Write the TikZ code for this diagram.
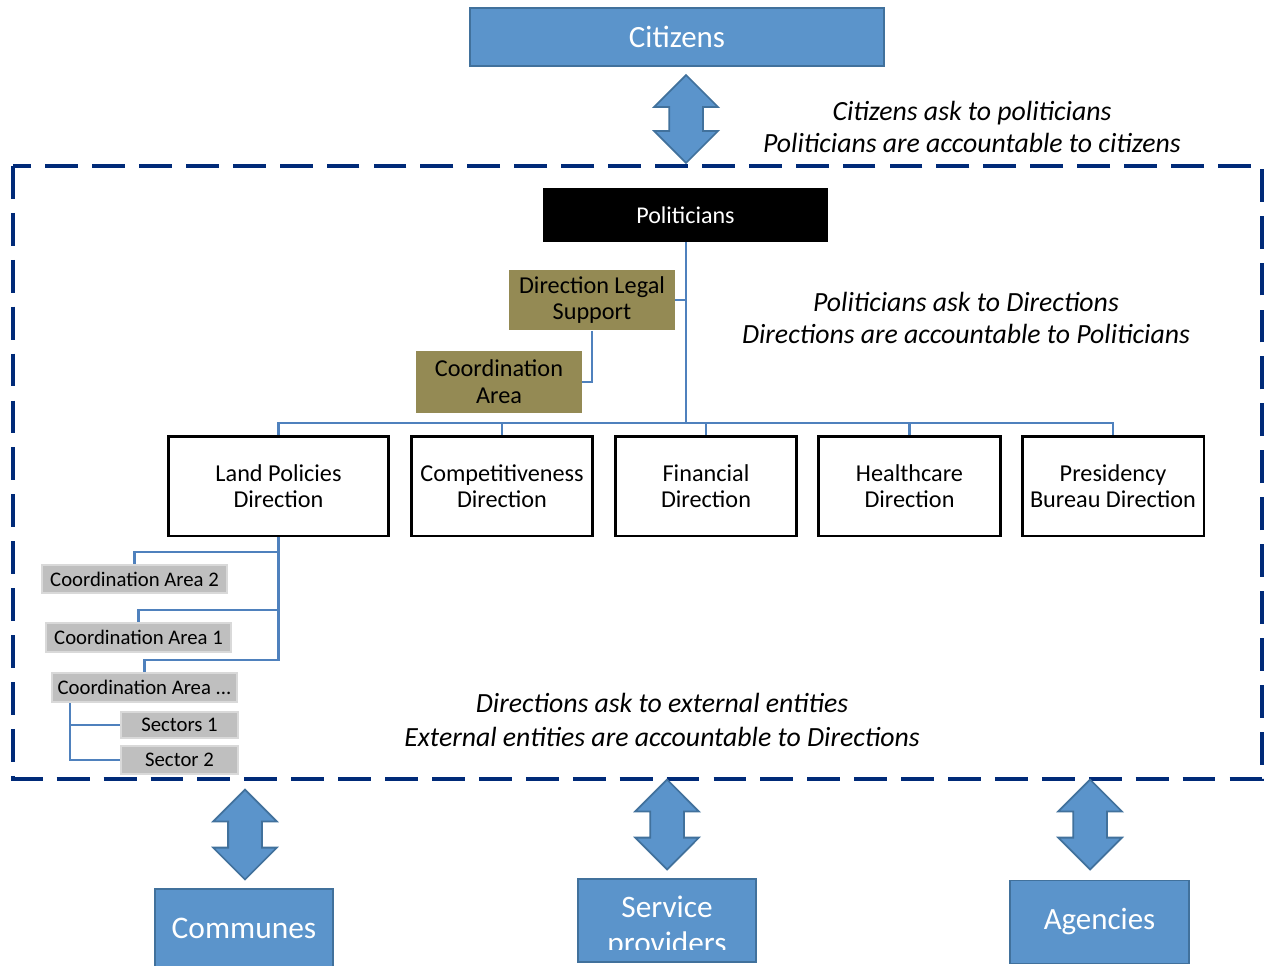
\documentclass[tikz,border=0pt]{standalone}
\usepackage{fontspec}
\setmainfont{Carlito}
\usepackage{tikz}
\usetikzlibrary{shapes.arrows}

\definecolor{boxblue}{RGB}{91,148,203}
\definecolor{boxedge}{RGB}{65,113,156}
\definecolor{framenavy}{RGB}{0,42,120}
\definecolor{linkblue}{RGB}{79,129,189}
\definecolor{legalolive}{RGB}{148,138,84}
\definecolor{areagray}{RGB}{191,191,191}
\definecolor{areaedge}{RGB}{217,217,217}

\begin{document}
\begin{tikzpicture}[x=0.02cm, y=-0.02cm,
        outer/.style = {draw=boxedge, fill=boxblue, line width=1pt,
            text=white, align=center, inner sep=0pt},
        swap/.style = {double arrow, draw=boxedge, fill=boxblue,
            line width=1pt, shape border rotate=90, inner sep=0.32cm,
            double arrow head extend=0.3cm, minimum height=1.8cm},
        dir/.style = {draw=black, fill=white, line width=1.7pt,
            align=center, inner sep=0pt, minimum height=2cm,
            font=\fontsize{13.8}{14.7}\selectfont},
        legal/.style = {fill=legalolive, align=center, inner sep=0pt,
            minimum width=3.32cm, minimum height=1.22cm,
            font=\fontsize{13.8}{15.3}\selectfont},
        area/.style = {fill=areagray, draw=areaedge, line width=1.2pt,
            inner sep=0pt, font=\fontsize{11.8}{13}\selectfont},
        link/.style = {draw=linkblue, line width=1.6pt},
        note/.style = {align=center,
            font=\fontsize{15.8}{18.7}\selectfont\itshape}]

        \useasboundingbox (0,0) rectangle (1264,966);
        \clip (0,0) rectangle (1264,966);

        % Boundary
        \draw[framenavy, line width=2.3pt, dash pattern=on 18.7pt off 8pt]
            (13,166) rectangle (1262,779);

        % Citizens
        \node[outer, minimum width=8.28cm, minimum height=1.16cm,
            font=\fontsize{17.6}{19}\selectfont] (citizens) at (677,37) {Citizens};
        \node[swap, minimum height=1.76cm] (citarrow) at (686,119) {};
        \node[note] (citnote) at (972,127)
            {Citizens ask to politicians\\Politicians are accountable to citizens};

        % Politicians
        \node[fill=black, text=white, inner sep=0pt, minimum width=5.7cm,
            minimum height=1.08cm, font=\fontsize{13.7}{15}\selectfont]
            (politicians) at (685.5,215) {Politicians};
        \node[note] (polnote) at (966,318)
            {Politicians ask to Directions\\Directions are accountable to Politicians};

        % Legal support and its area
        \node[legal] (legal) at (592,300) {Direction Legal\\Support};
        \node[legal, minimum height=1.24cm] (legalarea) at (499,382) {Coordination\\Area};

        % Directions
        \node[dir, minimum width=4.42cm] (land) at (278.5,486) {Land Policies\\Direction};
        \node[dir, minimum width=3.64cm] (compet) at (502,486) {Competitiveness\\Direction};
        \node[dir, minimum width=3.64cm] (finance) at (706,486) {Financial\\Direction};
        \node[dir, minimum width=3.64cm] (health) at (909.5,486) {Healthcare\\Direction};
        \node[dir, minimum width=3.64cm] (presid) at (1113,486) {Presidency\\Bureau Direction};

        % Coordination areas of Land Policies
        \node[area, minimum width=3.7cm, minimum height=0.56cm] (area2) at (134.5,579) {Coordination Area 2};
        \node[area, minimum width=3.7cm, minimum height=0.58cm] (area1) at (138.5,637.5) {Coordination Area 1};
        \node[area, minimum width=3.7cm, minimum height=0.58cm] (areadots) at (144.5,687.5) {Coordination Area ...};
        \node[area, minimum width=2.34cm, minimum height=0.52cm] (sector1) at (179.5,725) {Sectors 1};
        \node[area, minimum width=2.34cm, minimum height=0.56cm] (sector2) at (179.5,760) {Sector 2};

        % Links
        \coordinate (bus) at (686,423);
        \draw[link] (politicians.south -| bus) -- (bus);
        \draw[link] (land.north) |- (bus) -| (presid.north);
        \foreach \d in {compet,finance,health}
            \draw[link] (\d.north) -- (\d.north |- bus);
        \draw[link] (legal.east) -- (legal.east -| bus);
        \draw[link] (legal.south) |- (legalarea.east);
        \draw[link] (land.south) -- (land.south |- 0,660) -| (areadots.north);
        \draw[link] (area2.north) |- (land.south |- 0,552);
        \draw[link] (area1.north) |- (land.south |- 0,610);
        \coordinate (dotsstub) at ([xshift=0.38cm]areadots.south west);
        \draw[link] (dotsstub) |- (sector2.west);
        \draw[link] (sector1.west) -- (sector1.west -| dotsstub);

        \node[note, font=\fontsize{15.8}{19.8}\selectfont\itshape] (extnote) at (662,720)
            {Directions ask to external entities\\External entities are accountable to Directions};

        % External entities
        \node[swap] (comarrow) at (245,834.5) {};
        \node[swap] (servarrow) at (667,824.5) {};
        \node[swap] (agarrow) at (1090,824.5) {};

        \node[outer, minimum width=3.56cm, minimum height=1.8cm] (communes) at (244,934) {};
        \node[text=white, font=\fontsize{17.9}{20}\selectfont] (comtext) at (244,928) {Communes};
        \node[outer, minimum width=3.56cm, minimum height=1.66cm] (service) at (667,920.5) {};
        \begin{scope}
            \clip ([yshift=0.26cm]service.south west) rectangle (service.north east);
            \node[text=white, align=center, font=\fontsize{17.8}{20.4}\selectfont]
                (servtext) at (667,927) {Service\\providers};
        \end{scope}
        \node[outer, minimum width=3.58cm, minimum height=1.66cm,
            font=\fontsize{17.6}{20}\selectfont] (agencies) at (1099.5,922) {Agencies};

    \end{tikzpicture}
\end{document}
